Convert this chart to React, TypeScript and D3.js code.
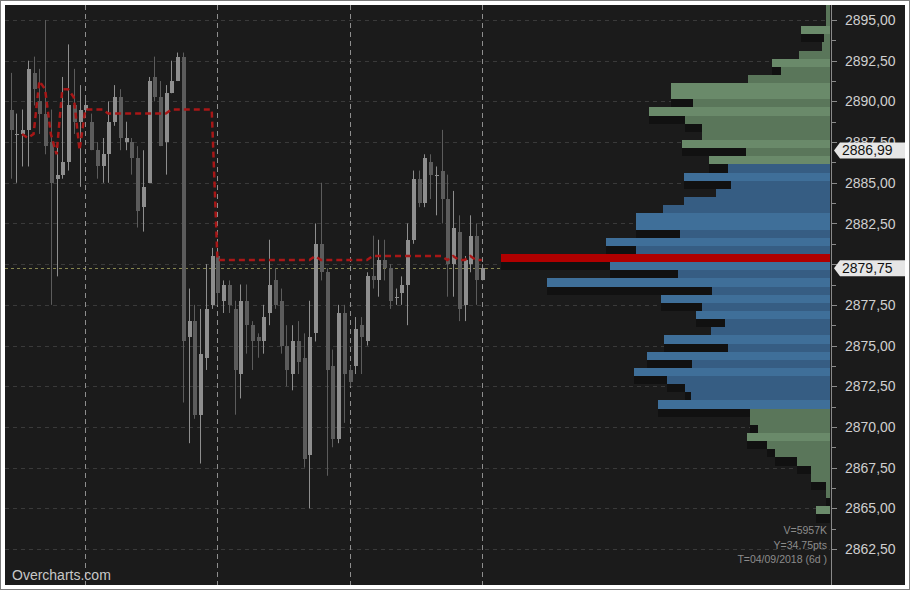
import React, { useEffect, useRef } from 'react'
import * as d3 from 'd3'

const WIDTH = 910
const HEIGHT = 590

// 83 bars, oldest first
const opens = [
  2889.5, 2888.0, 2888.0, 2888.25, 2891.75, 2890.0, 2889.25, 2887.5, 2885.25, 2885.5,
  2886.25, 2889.75, 2888.75, 2889.5, 2888.75, 2887.0, 2886.0, 2886.75, 2888.75, 2890.25,
  2887.5, 2887.5, 2886.5, 2883.5, 2885.0, 2891.5, 2890.25, 2887.5, 2890.5, 2891.25,
  2892.75, 2875.5, 2876.5, 2870.75, 2874.25, 2877.5, 2880.5, 2877.75, 2878.75, 2877.25,
  2873.25, 2877.75, 2876.25, 2875.5, 2875.25, 2877.0, 2879.0, 2877.75, 2875.0, 2873.25,
  2875.25, 2874.25, 2868.25, 2875.75, 2881.25, 2879.5, 2873.75, 2869.25, 2877.0, 2873.5,
  2873.75, 2876.25, 2875.25, 2879.25, 2879.0, 2880.25, 2879.75, 2878.0, 2878.25, 2878.75,
  2881.5, 2885.25, 2883.75, 2886.25, 2885.5, 2885.75, 2884.0, 2880.0, 2882.0, 2877.5,
  2880.0, 2881.75, 2879.0
]
const highs = [
  2891.75, 2889.25, 2889.5, 2892.5, 2892.75, 2892.0, 2895.0, 2889.5, 2887.25, 2891.5,
  2893.5, 2892.0, 2891.0, 2890.25, 2889.25, 2887.5, 2887.75, 2890.0, 2891.0, 2890.75,
  2888.75, 2887.75, 2887.25, 2887.0, 2891.5, 2892.75, 2891.25, 2891.0, 2892.5, 2893.0,
  2893.0, 2878.5, 2877.5, 2877.25, 2880.0, 2881.0, 2880.75, 2879.0, 2879.0, 2877.75,
  2878.75, 2878.75, 2876.5, 2875.75, 2877.5, 2881.5, 2879.75, 2878.5, 2876.25, 2876.25,
  2876.5, 2875.75, 2877.75, 2882.5, 2885.0, 2879.75, 2874.75, 2877.5, 2877.5, 2873.75,
  2876.75, 2876.75, 2879.5, 2881.75, 2881.5, 2881.5, 2880.0, 2878.5, 2879.25, 2882.5,
  2885.75, 2885.75, 2886.75, 2886.75, 2886.0, 2888.25, 2885.5, 2884.5, 2883.0, 2880.5,
  2883.0, 2882.5, 2880.0
]
const lows = [
  2885.25, 2885.0, 2886.0, 2886.0, 2889.75, 2888.0, 2886.75, 2877.5, 2879.25, 2885.25,
  2885.75, 2888.0, 2884.75, 2889.0, 2887.0, 2885.25, 2885.0, 2885.0, 2888.5, 2887.0,
  2887.0, 2885.5, 2882.25, 2882.0, 2885.0, 2890.0, 2887.25, 2885.5, 2890.5, 2891.25,
  2871.5, 2869.0, 2870.5, 2867.75, 2873.5, 2877.25, 2877.5, 2877.0, 2877.0, 2870.75,
  2871.75, 2874.5, 2873.5, 2874.25, 2874.5, 2876.25, 2877.25, 2874.5, 2872.5, 2872.25,
  2873.25, 2867.5, 2865.0, 2875.25, 2879.0, 2867.0, 2868.75, 2869.0, 2870.25, 2872.5,
  2873.25, 2873.25, 2875.0, 2878.5, 2878.0, 2879.0, 2877.25, 2877.5, 2877.5, 2876.25,
  2881.25, 2883.5, 2883.5, 2884.0, 2883.0, 2882.5, 2878.0, 2878.0, 2876.5, 2876.5,
  2879.5, 2877.5, 2879.0
]
const closes = [
  2888.25, 2888.0, 2888.25, 2892.0, 2890.75, 2889.25, 2887.25, 2885.0, 2885.5, 2886.25,
  2889.75, 2888.75, 2889.5, 2889.75, 2887.0, 2886.0, 2886.75, 2888.75, 2890.25, 2887.75,
  2887.75, 2886.5, 2883.25, 2884.75, 2891.25, 2890.25, 2887.25, 2890.5, 2891.25, 2892.75,
  2875.25, 2876.5, 2870.75, 2874.5, 2877.25, 2880.5, 2878.25, 2878.75, 2877.5, 2873.5,
  2877.75, 2876.25, 2875.25, 2875.25, 2876.75, 2878.75, 2877.5, 2875.0, 2873.5, 2875.25,
  2874.0, 2868.0, 2875.5, 2881.25, 2879.5, 2873.5, 2869.25, 2877.0, 2873.25, 2872.75,
  2876.0, 2875.5, 2879.25, 2879.0, 2880.25, 2879.75, 2877.75, 2878.0, 2878.75, 2881.5,
  2885.25, 2883.75, 2886.5, 2885.5, 2885.5, 2884.0, 2880.0, 2882.25, 2877.25, 2880.25,
  2881.75, 2879.0, 2879.75
]
// developing point of control, one value per bar
const devPoc = [
  null, null, 2888.0, 2887.75, 2888.0, 2891.25, 2890.75, 2888.0, 2886.75, 2890.75,
  2890.75, 2890.25, 2887.0, 2889.5, 2889.5, 2889.5, 2889.5, 2889.25, 2889.25, 2889.25,
  2889.25, 2889.25, 2889.25, 2889.25, 2889.25, 2889.25, 2889.25, 2889.25, 2889.5, 2889.5,
  2889.5, 2889.5, 2889.5, 2889.5, 2889.5, 2889.5, 2880.25, 2880.25, 2880.25, 2880.25,
  2880.25, 2880.25, 2880.25, 2880.25, 2880.25, 2880.25, 2880.25, 2880.25, 2880.25, 2880.25,
  2880.25, 2880.25, 2880.25, 2880.5, 2880.25, 2880.25, 2880.25, 2880.25, 2880.25, 2880.25,
  2880.25, 2880.25, 2880.25, 2880.5, 2880.5, 2880.5, 2880.5, 2880.5, 2880.5, 2880.5,
  2880.5, 2880.5, 2880.5, 2880.5, 2880.5, 2880.5, 2880.25, 2880.5, 2880.25, 2880.25,
  2880.5, 2880.25, 2880.25
]
const sessionStarts = [13, 36, 59, 82]

// volume profile in K contracts, 0.5 pt rows from the top row down
const profileTop = 2895.875
const rowSize = 0.5
const profileVolumes = [
  3, 3, 3, 24, 5, 7, 26, 49, 41, 69,
  134, 134, 115, 152, 122, 108, 108, 125, 71, 102,
  86, 123, 83, 96, 123, 141, 163, 163, 126, 189,
  163, 277, 185, 128, 238, 99, 142, 108, 113, 88,
  100, 140, 86, 154, 116, 165, 137, 122, 117, 145,
  67, 67, 61, 70, 53, 46, 28, 16, 16, 3,
  3, 0, 12, 0
]
const valueAreaHigh = 2886.0
const valueAreaLow = 2871.25

const priceTicks = [2895, 2892.5, 2890, 2887.5, 2885, 2882.5, 2880, 2877.5, 2875, 2872.5, 2870, 2867.5, 2865, 2862.5]
const lastPrice = 2879.75
const markerPrice = 2886.99
const infoLines = ['V=5957K', 'Y=34.75pts', 'T=04/09/2018 (6d )']

const FONT = '"Liberation Sans", Arial, sans-serif'

const App: React.FC = () => {
  const svgRef = useRef<SVGSVGElement>(null)

  useEffect(() => {
    if (!svgRef.current) return
    const svg = d3.select(svgRef.current)
    svg.selectAll('*').remove()

    const plot = { left: 5, top: 5, right: 830, bottom: 585 }

    const y = d3.scaleLinear().domain([2895, 2862.5]).range([20, 549])
    const x = d3.scaleLinear().domain([0, closes.length - 1]).range([10.6, 481.8])
    const xVol = d3.scaleLinear().domain([0, d3.max(profileVolumes) ?? 1]).range([plot.right, 501])
    const fmt = (v: number) => v.toFixed(2).replace('.', ',')

    // frame
    svg.append('rect').attr('x', 0.5).attr('y', 0.5).attr('width', WIDTH - 1).attr('height', HEIGHT - 1)
      .attr('fill', '#fff').attr('stroke', '#7a7a7a')
    svg.append('rect').attr('x', 5).attr('y', 5).attr('width', 900).attr('height', 580).attr('fill', '#1b1b1b')

    svg.append('clipPath').attr('id', 'plotClip')
      .append('rect').attr('x', plot.left).attr('y', plot.top)
      .attr('width', plot.right - plot.left).attr('height', plot.bottom - plot.top)

    const g = svg.append('g').attr('clip-path', 'url(#plotClip)')

    // horizontal grid
    g.selectAll('.hgrid').data(priceTicks).enter().append('line')
      .attr('x1', plot.left).attr('x2', plot.right)
      .attr('y1', d => Math.round(y(d)) + 0.5).attr('y2', d => Math.round(y(d)) + 0.5)
      .attr('stroke', '#3a3a3a').attr('stroke-dasharray', '4,4')

    // session separators
    g.selectAll('.vgrid').data(sessionStarts).enter().append('line')
      .attr('x1', d => Math.round(x(d)) + 0.5).attr('x2', d => Math.round(x(d)) + 0.5)
      .attr('y1', plot.top).attr('y2', plot.bottom)
      .attr('stroke', '#8e8e8e').attr('stroke-dasharray', '5,4')

    // last price line
    g.append('line')
      .attr('x1', plot.left).attr('x2', plot.right)
      .attr('y1', Math.round(y(lastPrice)) + 0.5).attr('y2', Math.round(y(lastPrice)) + 0.5)
      .attr('stroke', '#86854f').attr('stroke-dasharray', '3,3')

    // candles
    const idx = d3.range(closes.length)
    const candleColor = (i: number) => (closes[i] >= opens[i] ? '#8e8e8e' : '#5c5c5c')
    g.selectAll('.wick').data(idx).enter().append('line')
      .attr('x1', i => Math.round(x(i)) + 0.5).attr('x2', i => Math.round(x(i)) + 0.5)
      .attr('y1', i => y(highs[i])).attr('y2', i => y(lows[i]))
      .attr('stroke', i => candleColor(i)).attr('stroke-width', 1)
    g.selectAll('.body').data(idx).enter().append('rect')
      .attr('x', i => Math.round(x(i)) - 1.5)
      .attr('width', 4)
      .attr('y', i => y(Math.max(opens[i], closes[i])))
      .attr('height', i => Math.max(1.5, Math.abs(y(opens[i]) - y(closes[i]))))
      .attr('fill', i => candleColor(i))
      .attr('shape-rendering', 'crispEdges')

    // developing POC
    const pocLine = d3.line<number | null>()
      .defined(d => d !== null)
      .x((_, i) => x(i))
      .y(d => y(d as number))
    g.append('path').datum(devPoc).attr('d', pocLine)
      .attr('fill', 'none').attr('stroke', '#a81717').attr('stroke-width', 2.5)
      .attr('stroke-dasharray', '6,4')

    // volume profile
    const n = profileVolumes.length
    const pocIndex = profileVolumes.indexOf(d3.max(profileVolumes) ?? 0)
    const rows = profileVolumes.map((v, i) => ({ i, v, price: profileTop - i * rowSize }))
    const isPeak = (i: number) => {
      const v = profileVolumes[i]
      let a = i - 1
      while (a >= 0 && (a === pocIndex || profileVolumes[a] === v)) a--
      let b = i + 1
      while (b < n && (b === pocIndex || profileVolumes[b] === v)) b++
      const up = a >= 0 ? profileVolumes[a] : -1
      const dn = b < n ? profileVolumes[b] : -1
      return v > up && v > dn
    }
    const rowTop = (p: number) => y(p + rowSize / 2)
    const rowH = y(0) - y(rowSize)

    // shadow of each row falls on the row below it
    g.selectAll('.shadow').data(rows.filter(r => r.v > 0)).enter().append('rect')
      .attr('x', r => xVol(r.v)).attr('width', r => plot.right - xVol(r.v))
      .attr('y', r => rowTop(r.price) + rowH).attr('height', rowH)
      .attr('fill', '#111111').attr('shape-rendering', 'crispEdges')

    g.selectAll('.vol').data(rows.filter(r => r.v > 0)).enter().append('rect')
      .attr('x', r => xVol(r.v)).attr('width', r => plot.right - xVol(r.v))
      .attr('y', r => rowTop(r.price)).attr('height', rowH)
      .attr('shape-rendering', 'crispEdges')
      .attr('fill', r => {
        if (r.i === pocIndex) return '#b00000'
        const inVa = r.price <= valueAreaHigh && r.price >= valueAreaLow
        const peak = isPeak(r.i)
        if (inVa) return peak ? '#3f6f99' : '#365d83'
        return peak ? '#6a8a6a' : '#5a765a'
      })

    // price axis
    svg.append('line').attr('x1', 831.5).attr('x2', 831.5).attr('y1', plot.top).attr('y2', plot.bottom)
      .attr('stroke', '#8a8a8a')
    svg.selectAll('.tick').data(priceTicks).enter().append('line')
      .attr('x1', 832).attr('x2', 837)
      .attr('y1', d => Math.round(y(d)) + 0.5).attr('y2', d => Math.round(y(d)) + 0.5)
      .attr('stroke', '#8a8a8a')
    svg.selectAll('.minor').data(priceTicks.map(d => d + 1.25).filter(d => y(d) > plot.top)).enter().append('line')
      .attr('x1', 832).attr('x2', 836)
      .attr('y1', d => Math.round(y(d)) + 0.5).attr('y2', d => Math.round(y(d)) + 0.5)
      .attr('stroke', '#8a8a8a')

    // labels that sit fully under the last-price tag are not drawn
    const hiddenByTag = (d: number) => Math.abs(y(d) - y(lastPrice)) < 6
    svg.selectAll('.label').data(priceTicks.filter(d => !hiddenByTag(d))).enter().append('text')
      .attr('x', 845).attr('y', d => y(d)).attr('dy', '0.36em')
      .style('font-family', FONT).style('font-size', '14px').style('fill', '#cfcfcf')
      .text(d => fmt(d))

    // price tags
    const tag = (price: number) => {
      const cy = y(price)
      svg.append('path')
        .attr('d', `M834,${cy} L840,${cy - 8} L905,${cy - 8} L905,${cy + 8} L840,${cy + 8} Z`)
        .attr('fill', '#e6e6e6')
      svg.append('text').attr('x', 842).attr('y', cy).attr('dy', '0.36em')
        .style('font-family', FONT).style('font-size', '14px').style('fill', '#111')
        .text(fmt(price))
    }
    tag(markerPrice)
    tag(lastPrice)

    // profile info
    svg.selectAll('.info').data(infoLines).enter().append('text')
      .attr('x', 827).attr('y', (_, i) => 534 + i * 14.5)
      .attr('text-anchor', 'end')
      .style('font-family', FONT).style('font-size', '10.5px').style('fill', '#8c8c8c')
      .text(d => d)

    svg.append('text').attr('x', 12).attr('y', 580)
      .style('font-family', FONT).style('font-size', '14px').style('fill', '#c8c8c8')
      .text('Overcharts.com')
  }, [])

  return (
    <div style={{ position: 'absolute', left: 0, top: 0 }}>
      <svg ref={svgRef} width={WIDTH} height={HEIGHT} />
    </div>
  )
}

export default App
